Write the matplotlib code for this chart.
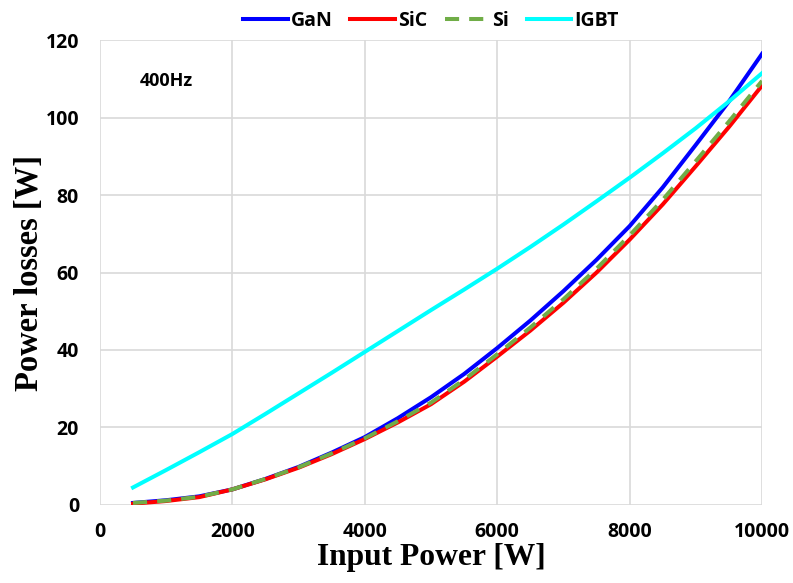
import numpy as np
import matplotlib
matplotlib.use("Agg")
import matplotlib.pyplot as plt

power = [500, 1000, 1500, 2000, 2500, 3000, 3500, 4000, 4500, 5000,
         5500, 6000, 6500, 7000, 7500, 8000, 8500, 9000, 9500, 10000]

gan = [0.5, 1.2, 2.2, 4.0, 6.7, 9.8, 13.5, 17.5, 22.4, 27.8,
       33.8, 40.5, 47.6, 55.2, 63.3, 72.0, 82.0, 93.0, 104.2, 116.5]
sic = [0.3, 1.0, 2.0, 4.0, 6.6, 9.6, 13.1, 17.0, 21.3, 26.0,
       31.8, 38.3, 45.0, 52.2, 60.0, 68.5, 77.6, 87.5, 97.6, 108.3]
si = [0.5, 1.1, 2.1, 4.0, 6.7, 9.7, 13.3, 17.2, 21.6, 26.4,
      32.3, 38.9, 45.8, 53.1, 61.0, 69.6, 78.8, 88.8, 99.0, 109.5]
igbt = [4.5, 9.0, 13.6, 18.3, 23.5, 28.8, 34.1, 39.5, 44.9, 50.3,
        55.6, 61.0, 66.6, 72.4, 78.4, 84.5, 90.8, 97.3, 104.2, 111.5]

fig = plt.figure(figsize=(7.93, 5.83), dpi=100)
ax = fig.add_axes([0.126, 0.134, 0.835, 0.797])

ax.plot(power, gan, color="#0000ff", lw=2.9, label="GaN", zorder=3)
ax.plot(power, sic, color="#ff0000", lw=2.9, label="SiC", zorder=4)
ax.plot(power, si, color="#70ad47", lw=2.9, ls=(0, (3.5, 2.5)), label="Si", zorder=5)
ax.plot(power, igbt, color="#00ffff", lw=2.9, label="IGBT", zorder=3)

ax.set_xlim(0, 10000)
ax.set_ylim(0, 120)
ax.set_xticks(np.arange(0, 10001, 2000))
ax.set_yticks(np.arange(0, 121, 20))
ax.grid(True, color="#d9d9d9", lw=1.2)
ax.set_axisbelow(True)
for s in ax.spines.values():
    s.set_visible(False)
ax.tick_params(length=0)
ax.tick_params(axis="x", pad=12)
ax.tick_params(axis="y", pad=15)
for lab in ax.get_xticklabels() + ax.get_yticklabels():
    lab.set_fontfamily("Open Sans")
    lab.set_fontweight("bold")
    lab.set_fontsize(14)

ax.set_xlabel("Input Power [W]", family="Liberation Serif", weight="bold", fontsize=22.7)
ax.set_ylabel("Power losses [W]", family="Liberation Serif", weight="bold", fontsize=23.5)
ax.xaxis.set_label_coords(0.5, -0.082)
ax.yaxis.set_label_coords(-0.083, 0.5)

ax.text(600, 109.4, "400Hz", family="Open Sans", weight="bold", fontsize=13, va="center")

leg = ax.legend(loc="lower center", bbox_to_anchor=(0.5, 1.0), ncol=4, frameon=False,
                handlelength=2.3, columnspacing=0.9, handletextpad=0.15,
                prop={"family": "Open Sans", "weight": "bold", "size": 14}, borderaxespad=0.1)

fig.savefig("out.png", dpi=100)
